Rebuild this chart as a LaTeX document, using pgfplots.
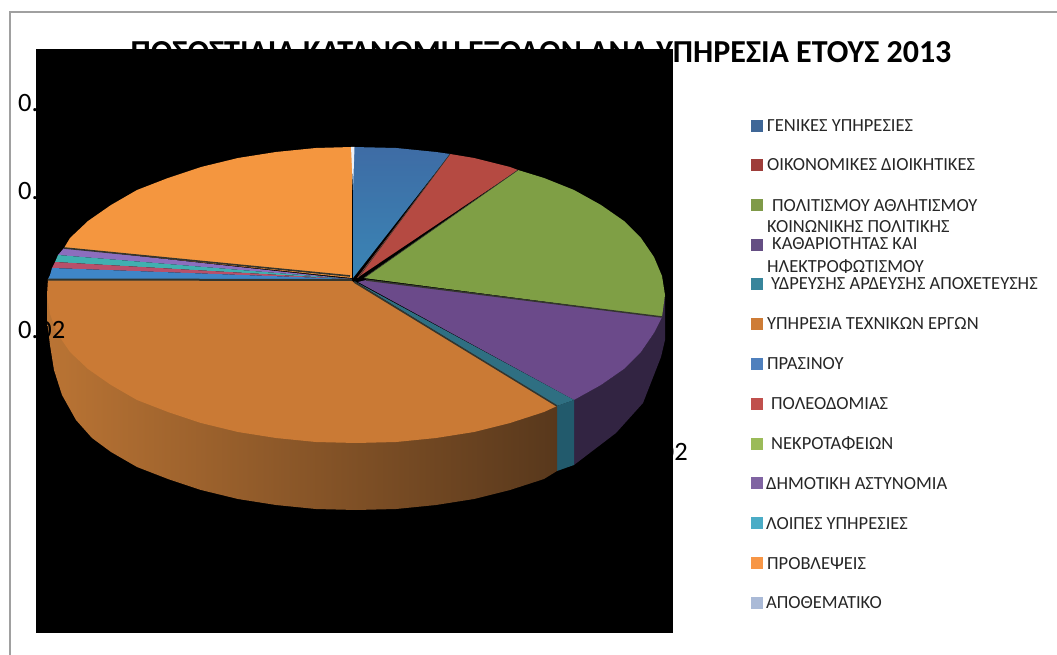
\documentclass[border=0pt]{standalone}
\usepackage{fontspec}
\setmainfont{Carlito}
\usepackage{pgfplots}
\pgfplotsset{compat=1.18}
\definecolor{legA}{HTML}{3F6797}
\definecolor{legB}{HTML}{9E3D3A}
\definecolor{legC}{HTML}{7F9A48}
\definecolor{legD}{HTML}{644E83}
\definecolor{legE}{HTML}{38859B}
\definecolor{legF}{HTML}{CE7C36}
\definecolor{legG}{HTML}{4F80BD}
\definecolor{legH}{HTML}{C0504D}
\definecolor{legI}{HTML}{9BBB59}
\definecolor{legJ}{HTML}{8064A2}
\definecolor{legK}{HTML}{4BACC6}
\definecolor{legL}{HTML}{F79646}
\definecolor{legM}{HTML}{AABAD7}
\definecolor{sep}{HTML}{33352E}
\newcommand{\legtxt}[3]{\node[anchor=west,inner sep=0pt,font=\fontsize{18.5}{18.5}\selectfont,text=black!85] at (axis cs:#1,#2) {#3};}
\begin{document}
\begin{tikzpicture}
\path[use as bounding box] (0,0) rectangle (1057pt,655pt);
\node[anchor=base,inner sep=0pt,font=\bfseries\fontsize{32}{32}\selectfont] at (541pt,592pt) {ΠΟΣΟΣΤΙΑΙΑ ΚΑΤΑΝΟΜΗ ΕΞΟΔΩΝ ΑΝΑ ΥΠΗΡΕΣΙΑ ΕΤΟΥΣ 2013};
\begin{axis}[
at={(0pt,0pt)},anchor=south west,
scale only axis,width=1057pt,height=655pt,
xmin=0,xmax=1057,ymin=0,ymax=655,y dir=reverse,
hide axis,clip=false,
]
% frame and black plot area
\addplot[draw={rgb,255:red,160;green,160;blue,160},line width=1.5pt] coordinates {(10,655) (10,12) (1057,12)};
\addplot[fill=black,draw=none] coordinates {(36,49) (673,49) (673,633) (36,633)} -- cycle;

% sides of the pie
\addplot[fill={rgb,255:red,50;green,36;blue,66},draw=none] coordinates {
(574,400) (601,385) (624,369) (641,352) (654,333) (662,314) (665,295) (665,340) (661,357) (643,403) (616,433) (574,465)} -- cycle;
\addplot[fill={rgb,255:red,34;green,90;blue,108},draw=none] coordinates {(557,406) (574,400) (574,465) (557,471)} -- cycle;
\addplot[draw=none,left color={rgb,255:red,186;green,116;blue,52},middle color={rgb,255:red,150;green,96;blue,44},right color={rgb,255:red,88;green,56;blue,28}] coordinates {
(47,295) (47,320) (50,345) (54,370) (62,395) (76,420) (92,438) (111,452) (137,467) (168,479) (201,490) (238,499) (276,505) (316,509) (356,510) (396,509) (436,505) (474,499) (510,490) (544,479) (557,471) (557,406) (356,295)} -- cycle;

% top of the pie
\addplot[fill=legF!98!black,draw=none] coordinates {
(352,281) (557,406) (544,412) (510,423) (474,432) (436,438) (396,442) (356,443) (316,442) (276,438) (238,432) (201,423) (168,412) (137,400) (111,385) (88,369) (70,352) (57,333) (50,314) (47,295) (48,279)} -- cycle;
\addplot[fill={rgb,255:red,107;green,74;blue,138},draw=none] coordinates {
(366,280) (662,317) (654,333) (641,352) (624,369) (601,385) (574,400) (358,282)} -- cycle;
\addplot[fill={rgb,255:red,47;green,111;blue,130},draw=none] coordinates {(354,281) (574,400) (557,406)} -- cycle;
\addplot[fill={rgb,255:red,127;green,159;blue,69},draw=none] coordinates {
(364,278) (518,170) (544,178) (574,190) (601,205) (624,221) (641,238) (654,257) (662,276) (665,295) (662,317)} -- cycle;
\addplot[fill={rgb,255:red,181;green,74;blue,66},draw=none] coordinates {(357,278) (450,154) (474,158) (510,167) (518,170)} -- cycle;
\addplot[draw=none,top color={rgb,255:red,62;green,108;blue,165},bottom color={rgb,255:red,58;green,133;blue,181}] coordinates {(353,278) (353,147) (396,148) (436,152) (450,154)} -- cycle;
\addplot[fill={rgb,255:red,244;green,150;blue,63},draw=none] coordinates {
(352,278) (64,248) (70,238) (88,221) (111,205) (137,190) (168,178) (201,167) (238,158) (276,152) (316,148) (352,147)} -- cycle;
\addplot[fill={rgb,255:red,140;green,110;blue,190},draw=none] coordinates {(350,279) (58,255) (64,248)} -- cycle;
\addplot[fill={rgb,255:red,64;green,176;blue,176},draw=none] coordinates {(350,279) (55,262) (58,255)} -- cycle;
\addplot[fill={rgb,255:red,185;green,80;blue,106},draw=none] coordinates {(350,279) (52,268) (55,262)} -- cycle;
\addplot[fill={rgb,255:red,63;green,134;blue,200},draw=none] coordinates {(352,279) (48,279) (50,275) (52,268)} -- cycle;

% wedge separators
\addplot[sep,line width=1.6pt] coordinates {(64,248) (350,276)};
\addplot[sep,line width=2pt] coordinates {(48,279.5) (352,280)};
\addplot[sep,line width=1.5pt] coordinates {(366,280) (662,317)};
\addplot[sep,line width=1.5pt] coordinates {(354,282) (557,406)};
\addplot[black,line width=1.5pt] coordinates {(352.5,158) (352.5,280)};
\addplot[fill=white!80!legM,draw=none] coordinates {(351,147) (354.5,147) (353,190)} -- cycle;
\addplot[sep,line width=0.6pt] coordinates {(358,278) (450,154)};
\addplot[sep,line width=0.6pt] coordinates {(364,278) (518,170)};

% legend keys
\addplot[only marks,mark=square*,mark size=5.5pt,legA] coordinates {(756.5,126)};
\addplot[only marks,mark=square*,mark size=5.5pt,legB] coordinates {(756.5,165)};
\addplot[only marks,mark=square*,mark size=5.5pt,legC] coordinates {(756.5,205)};
\addplot[only marks,mark=square*,mark size=5.5pt,legD] coordinates {(756.5,245)};
\addplot[only marks,mark=square*,mark size=5.5pt,legE] coordinates {(756.5,284)};
\addplot[only marks,mark=square*,mark size=5.5pt,legF] coordinates {(756.5,324)};
\addplot[only marks,mark=square*,mark size=5.5pt,legG] coordinates {(756.5,364)};
\addplot[only marks,mark=square*,mark size=5.5pt,legH] coordinates {(756.5,404)};
\addplot[only marks,mark=square*,mark size=5.5pt,legI] coordinates {(756.5,444)};
\addplot[only marks,mark=square*,mark size=5.5pt,legJ] coordinates {(756.5,483)};
\addplot[only marks,mark=square*,mark size=5.5pt,legK] coordinates {(756.5,523)};
\addplot[only marks,mark=square*,mark size=5.5pt,legL] coordinates {(756.5,563)};
\addplot[only marks,mark=square*,mark size=5.5pt,legM] coordinates {(756.5,603)};

\legtxt{767}{126}{ΓΕΝΙΚΕΣ ΥΠΗΡΕΣΙΕΣ}
\legtxt{767}{165}{ΟΙΚΟΝΟΜΙΚΕΣ ΔΙΟΙΚΗΤΙΚΕΣ}
\legtxt{772}{206}{ΠΟΛΙΤΙΣΜΟΥ ΑΘΛΗΤΙΣΜΟΥ}
\legtxt{767}{227}{ΚΟΙΝΩΝΙΚΗΣ ΠΟΛΙΤΙΚΗΣ}
\legtxt{772}{244}{ΚΑΘΑΡΙΟΤΗΤΑΣ ΚΑΙ}
\legtxt{767}{267}{ΗΛΕΚΤΡΟΦΩΤΙΣΜΟΥ}
\legtxt{771}{284}{ΥΔΡΕΥΣΗΣ ΑΡΔΕΥΣΗΣ ΑΠΟΧΕΤΕΥΣΗΣ}
\legtxt{767}{324}{ΥΠΗΡΕΣΙΑ ΤΕΧΝΙΚΩΝ ΕΡΓΩΝ}
\legtxt{767}{364}{ΠΡΑΣΙΝΟΥ}
\legtxt{771}{404}{ΠΟΛΕΟΔΟΜΙΑΣ}
\legtxt{771}{444}{ΝΕΚΡΟΤΑΦΕΙΩΝ}
\legtxt{766}{484}{ΔΗΜΟΤΙΚΗ ΑΣΤΥΝΟΜΙΑ}
\legtxt{766}{524}{ΛΟΙΠΕΣ ΥΠΗΡΕΣΙΕΣ}
\legtxt{767}{564}{ΠΡΟΒΛΕΨΕΙΣ}
\legtxt{766}{603}{ΑΠΟΘΕΜΑΤΙΚΟ}

% data labels, black on the black area
\node[anchor=base west,inner sep=0pt,font=\fontsize{26.5}{26.5}\selectfont] at (axis cs:18,112) {0.00};
\node[anchor=base west,inner sep=0pt,font=\fontsize{26.5}{26.5}\selectfont] at (axis cs:18,200) {0.21};
\node[anchor=base west,inner sep=0pt,font=\fontsize{26.5}{26.5}\selectfont] at (axis cs:18,338) {0.02};
\node[anchor=base east,inner sep=0pt,font=\fontsize{26.5}{26.5}\selectfont] at (axis cs:688,460) {0.02};
\end{axis}
\end{tikzpicture}
\end{document}
